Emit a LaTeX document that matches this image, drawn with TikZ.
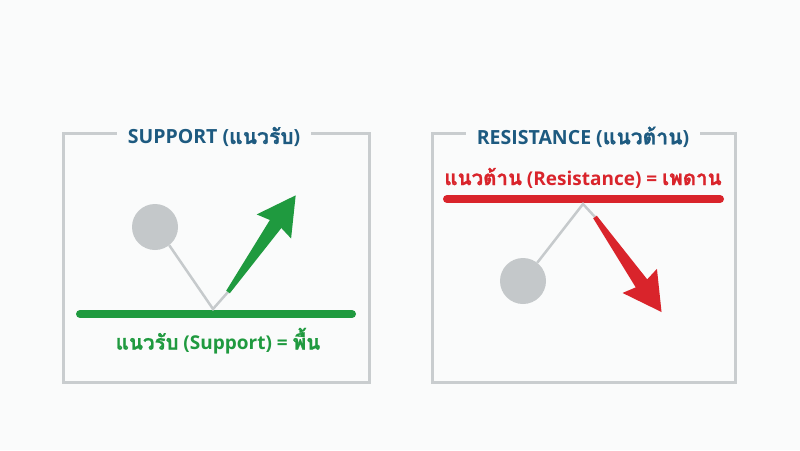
\documentclass[tikz,border=0pt]{standalone}
\usepackage{fontspec}
\setmainfont{Open Sans}
\newfontfamily\thai[Script=Thai,Scale=1.08,FakeBold=1.2]{Loma}
\definecolor{bg}{HTML}{FAFBFB}
\definecolor{frame}{HTML}{C9CDCF}
\definecolor{titleblue}{HTML}{1D5A80}
\definecolor{sgreen}{HTML}{1F9A3F}
\definecolor{rred}{HTML}{D9242B}
\definecolor{ball}{HTML}{C4C8CA}
\definecolor{path}{HTML}{C6CACC}
\tikzset{
  panel/.style={draw=frame, line width=3pt},
  ttl/.style={text=titleblue, font=\fontsize{19.5}{22}\selectfont\bfseries, inner xsep=11pt, inner ysep=2pt},
  lbl/.style={font=\fontsize{19}{22}\selectfont\bfseries, inner sep=2pt},
  level/.style={line width=8pt, line cap=round},
  ballstyle/.style={circle, fill=ball, minimum size=46pt, inner sep=0pt},
  trail/.style={draw=path, line width=2.5pt},
}
\begin{document}
\begin{tikzpicture}[x=1pt,y=-1pt]
\fill[bg] (0,0) rectangle (800,450);
\useasboundingbox (0,0) rectangle (800,450);
% ---------- Support panel
\node[ttl] (t1) at (214,137) {SUPPORT ({\thai แนวรับ})};
\draw[panel] (t1.west |- 0,133) -- (63,133) -- (63,382) -- (369,382) -- (369,133) -- (t1.east |- 0,133);
\draw[level, draw=sgreen] (80,314) -- (352,314);
\node[lbl, text=sgreen] (l1) at (218,341) {{\thai แนวรับ} (Support) = {\thai พื้น}};
\node[ballstyle] (b1) at (155,227) {};
\coordinate (v1) at (213,309);
\coordinate (s1) at (228,292);
\draw[trail] (b1.-52) -- (v1) -- (s1);
\begin{scope}[shift={(s1)}, rotate=55]
\fill[sgreen] (0,-2.2) -- (83,-7) -- (80,-21) -- (118,0) -- (80,21) -- (83,7) -- (0,2.2) -- cycle;
\end{scope}
% ---------- Resistance panel
\node[ttl] (t2) at (583,137) {RESISTANCE ({\thai แนวต้าน})};
\draw[panel] (t2.west |- 0,133) -- (432,133) -- (432,382) -- (735,382) -- (735,133) -- (t2.east |- 0,133);
\node[lbl, text=rred] (l2) at (583,178) {{\thai แนวต้าน} (Resistance) = {\thai เพดาน}};
\draw[level, draw=rred] (447,199) -- (720,199);
\node[ballstyle] (b2) at (523,281) {};
\coordinate (v2) at (583,204);
\coordinate (s2) at (595,217);
\draw[trail] (b2.52) -- (v2) -- (s2);
\begin{scope}[shift={(s2)}, rotate=-55]
\fill[rred] (0,-2.2) -- (81,-7) -- (78,-21) -- (116,0) -- (78,21) -- (81,7) -- (0,2.2) -- cycle;
\end{scope}
\end{tikzpicture}
\end{document}
